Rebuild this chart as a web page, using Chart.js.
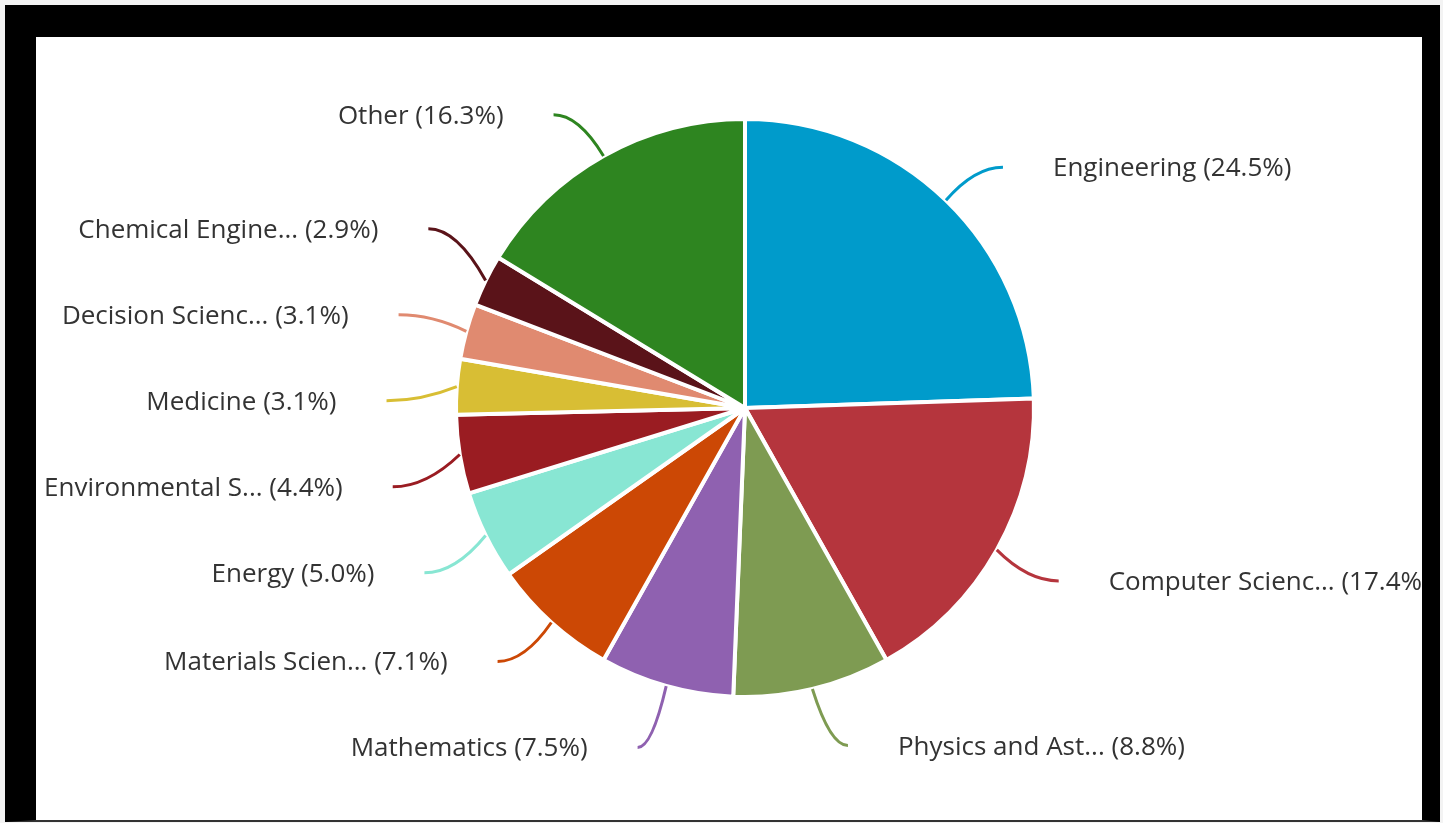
<!DOCTYPE html>
<html>
<head>
<meta charset="utf-8">
<script src="https://cdn.jsdelivr.net/npm/chart.js@4.4.1/dist/chart.umd.min.js"></script>
<style>
  html, body { margin: 0; padding: 0; background: #f3f3f3; overflow: hidden; }
  #paper { position: absolute; left: 36px; top: 37px; width: 1386px; height: 784px; background: #fff; }
  #wrap { position: absolute; left: 0; top: 0; width: 1443px; height: 823px; }
  #frame {
    position: absolute; left: 5px; top: 5px; width: 1435px; height: 817px;
    box-sizing: border-box; border-style: solid; border-color: #000 #000 #333 #000;
    border-width: 32px 18px 2px 31px; pointer-events: none;
  }
</style>
</head>
<body>
<div id="paper"></div>
<div id="wrap"><canvas id="pie" width="1443" height="823"></canvas></div>
<div id="frame"></div>
<script>
// subject areas, clockwise from 12 o'clock
const categories = [
    'Engineering',
    'Computer Science',
    'Physics and Astronomy',
    'Mathematics',
    'Materials Science',
    'Energy',
    'Environmental Science',
    'Medicine',
    'Decision Sciences',
    'Chemical Engineering',
    'Other'
];
const shares = [24.5, 17.4, 8.8, 7.5, 7.1, 5.0, 4.4, 3.1, 3.1, 2.9, 16.3];
const colors = [
    '#009bcb', '#b5353d', '#7e9b52', '#8f61b0', '#cc4805', '#88e6d3',
    '#9a1c22', '#d8be34', '#e08a70', '#5a1319', '#2e8520'
];

function labelText(i) {
    let name = categories[i];
    if (name.length > 15) name = name.slice(0, 15) + '...';
    return name + ' (' + shares[i].toFixed(1) + '%)';
}

// spread labels on one side so they keep a minimum gap
function spread(items, gap) {
    items.sort((a, b) => a.y0 - b.y0);
    let groups = items.map(it => ({ members: [it], sum: it.y0 }));
    const start = g => g.sum / g.members.length - (g.members.length - 1) * gap / 2;
    let merged = true;
    while (merged) {
        merged = false;
        for (let k = 0; k < groups.length - 1; k++) {
            const a = groups[k], b = groups[k + 1];
            if (start(a) + a.members.length * gap > start(b)) {
                a.members = a.members.concat(b.members);
                a.sum += b.sum;
                groups.splice(k + 1, 1);
                merged = true;
                break;
            }
        }
    }
    groups.forEach(g => {
        const s = start(g);
        g.members.forEach((it, j) => { it.yl = s + j * gap; });
    });
}

const leaderLabels = {
    id: 'leaderLabels',
    afterDatasetsDraw(chart) {
        const ctx = chart.ctx;
        const meta = chart.getDatasetMeta(0);
        const items = meta.data.map((arc, i) => {
            const p = arc.getProps(['x', 'y', 'startAngle', 'endAngle', 'outerRadius'], true);
            const mid = (p.startAngle + p.endAngle) / 2;
            const cos = Math.cos(mid), sin = Math.sin(mid);
            return { i, cx: p.x, cy: p.y, r: p.outerRadius, cos, sin,
                     side: cos >= 0 ? 1 : -1, y0: p.y + 5 + (p.outerRadius + 53) * sin };
        });
        spread(items.filter(it => it.side < 0), 86);
        spread(items.filter(it => it.side > 0), 86);

        ctx.save();
        ctx.lineWidth = 3;
        ctx.font = '26px "Open Sans"';
        ctx.fillStyle = '#333';
        items.forEach(it => {
            const re = it.r + 70;
            const sx = it.cx + it.r * it.cos, sy = it.cy + it.r * it.sin;
            const ey = it.yl;
            const dy = Math.min(Math.abs(ey - it.cy), re);
            const ex = 0.5 * (it.cx + re * it.cos) + 0.5 * (it.cx + it.side * Math.sqrt(re * re - dy * dy));
            ctx.strokeStyle = colors[it.i];
            ctx.beginPath();
            ctx.moveTo(sx, sy);
            ctx.quadraticCurveTo((sx + ex) / 2, ey, ex, ey);
            ctx.stroke();
            ctx.textAlign = it.side > 0 ? 'left' : 'right';
            ctx.textBaseline = 'alphabetic';
            ctx.fillText(labelText(it.i), ex + it.side * 50, ey + 9);
        });
        ctx.restore();
    }
};

new Chart(document.getElementById('pie'), {
    type: 'pie',
    data: {
        labels: categories,
        datasets: [{
            data: shares,
            backgroundColor: colors,
            borderColor: '#ffffff',
            borderWidth: 4,
            hoverOffset: 0,
            radius: 289
        }]
    },
    options: {
        responsive: false,
        animation: false,
        events: [],
        layout: { padding: { left: 47, right: 0, top: 0, bottom: 7 } },
        plugins: {
            legend: { display: false },
            tooltip: { enabled: false }
        }
    },
    plugins: [leaderLabels]
});
</script>
</body>
</html>
